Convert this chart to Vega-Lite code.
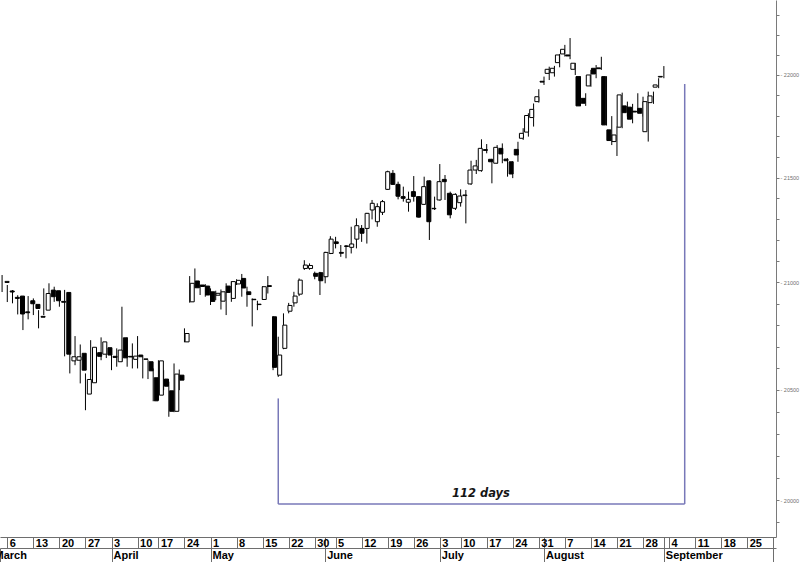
{
  "$schema": "https://vega.github.io/schema/vega-lite/v6.json",
  "width": 776,
  "height": 537,
  "autosize": {"type": "none"},
  "padding": {"left": 0, "top": 0, "right": 24, "bottom": 25},
  "background": "white",
  "config": {"view": {"stroke": null}, "axis": {"grid": false, "labelFont": "Liberation Sans"}},
  "datasets": {
    "candles": [
      {"d":2,"o":21000,"h":21035,"l":20955,"c":21005},
      {"d":3,"o":20960,"h":20988,"l":20908,"c":20955},
      {"d":4,"o":20930,"h":20964,"l":20902,"c":20925},
      {"d":5,"o":20936,"h":20940,"l":20850,"c":20852},
      {"d":6,"o":20862,"h":20925,"l":20777,"c":20858},
      {"d":7,"o":20914,"h":20936,"l":20827,"c":20900},
      {"d":8,"o":20897,"h":20925,"l":20847,"c":20878},
      {"d":9,"o":20841,"h":20870,"l":20785,"c":20837},
      {"d":10,"o":20870,"h":20972,"l":20847,"c":20948},
      {"d":11,"o":20964,"h":20996,"l":20894,"c":20933},
      {"d":12,"o":20961,"h":20980,"l":20909,"c":20914},
      {"d":13,"o":20911,"h":20941,"l":20886,"c":20907},
      {"d":14,"o":20953,"h":20965,"l":20655,"c":20665},
      {"d":15,"o":20634,"h":20684,"l":20576,"c":20653},
      {"d":16,"o":20637,"h":20749,"l":20614,"c":20653},
      {"d":17,"o":20669,"h":20710,"l":20530,"c":20591},
      {"d":18,"o":20481,"h":20576,"l":20407,"c":20548},
      {"d":19,"o":20533,"h":20730,"l":20522,"c":20697},
      {"d":20,"o":20672,"h":20687,"l":20637,"c":20655},
      {"d":21,"o":20665,"h":20743,"l":20637,"c":20722},
      {"d":22,"o":20695,"h":20707,"l":20647,"c":20661},
      {"d":23,"o":20655,"h":20687,"l":20591,"c":20650},
      {"d":24,"o":20630,"h":20692,"l":20607,"c":20684},
      {"d":25,"o":20741,"h":20886,"l":20630,"c":20648},
      {"d":26,"o":20655,"h":20743,"l":20607,"c":20652},
      {"d":27,"o":20641,"h":20715,"l":20599,"c":20656},
      {"d":28,"o":20661,"h":20749,"l":20599,"c":20653},
      {"d":29,"o":20643,"h":20653,"l":20553,"c":20641},
      {"d":30,"o":20630,"h":20637,"l":20550,"c":20588},
      {"d":31,"o":20556,"h":20599,"l":20448,"c":20450},
      {"d":32,"o":20476,"h":20637,"l":20453,"c":20634},
      {"d":33,"o":20550,"h":20591,"l":20499,"c":20517},
      {"d":34,"o":20496,"h":20538,"l":20377,"c":20402},
      {"d":35,"o":20402,"h":20622,"l":20398,"c":20573},
      {"d":36,"o":20568,"h":20594,"l":20499,"c":20545},
      {"d":37,"o":20722,"h":20785,"l":20720,"c":20761},
      {"d":38,"o":20909,"h":21030,"l":20905,"c":20996},
      {"d":39,"o":21007,"h":21066,"l":20973,"c":20975},
      {"d":40,"o":20988,"h":20990,"l":20941,"c":20981},
      {"d":41,"o":20983,"h":20992,"l":20933,"c":20941},
      {"d":42,"o":20956,"h":20972,"l":20894,"c":20911},
      {"d":43,"o":20940,"h":20961,"l":20917,"c":20949},
      {"d":44,"o":20912,"h":20967,"l":20873,"c":20956},
      {"d":45,"o":20983,"h":20996,"l":20847,"c":20953},
      {"d":46,"o":20925,"h":21006,"l":20909,"c":21004},
      {"d":47,"o":20993,"h":21015,"l":20988,"c":21010},
      {"d":48,"o":21019,"h":21040,"l":20933,"c":20974},
      {"d":49,"o":20956,"h":20980,"l":20886,"c":20943},
      {"d":50,"o":20921,"h":20925,"l":20794,"c":20919},
      {"d":51,"o":20898,"h":20914,"l":20870,"c":20896},
      {"d":52,"o":20920,"h":20983,"l":20918,"c":20980},
      {"d":53,"o":20985,"h":21030,"l":20948,"c":20981},
      {"d":54,"o":20839,"h":20842,"l":20591,"c":20604},
      {"d":55,"o":20568,"h":20746,"l":20560,"c":20661},
      {"d":56,"o":20692,"h":20855,"l":20688,"c":20800},
      {"d":57,"o":20865,"h":20904,"l":20855,"c":20892},
      {"d":58,"o":20904,"h":20956,"l":20886,"c":20936},
      {"d":59,"o":20945,"h":21019,"l":20936,"c":21011},
      {"d":60,"o":21066,"h":21105,"l":21059,"c":21082},
      {"d":61,"o":21066,"h":21090,"l":21060,"c":21080},
      {"d":62,"o":21043,"h":21051,"l":21015,"c":21029},
      {"d":63,"o":21046,"h":21050,"l":20941,"c":21008},
      {"d":64,"o":21027,"h":21145,"l":20996,"c":21142},
      {"d":65,"o":21137,"h":21219,"l":21134,"c":21205},
      {"d":66,"o":21192,"h":21216,"l":21161,"c":21184},
      {"d":67,"o":21142,"h":21177,"l":21121,"c":21138},
      {"d":68,"o":21170,"h":21177,"l":21114,"c":21173},
      {"d":69,"o":21166,"h":21264,"l":21137,"c":21182},
      {"d":70,"o":21205,"h":21304,"l":21161,"c":21269},
      {"d":71,"o":21256,"h":21272,"l":21192,"c":21233},
      {"d":72,"o":21256,"h":21330,"l":21184,"c":21328},
      {"d":73,"o":21344,"h":21392,"l":21299,"c":21376},
      {"d":74,"o":21288,"h":21376,"l":21264,"c":21360},
      {"d":75,"o":21333,"h":21392,"l":21320,"c":21384},
      {"d":76,"o":21443,"h":21533,"l":21440,"c":21528},
      {"d":77,"o":21520,"h":21536,"l":21464,"c":21467},
      {"d":78,"o":21467,"h":21480,"l":21395,"c":21410},
      {"d":79,"o":21408,"h":21456,"l":21384,"c":21400},
      {"d":80,"o":21381,"h":21432,"l":21336,"c":21395},
      {"d":81,"o":21432,"h":21507,"l":21384,"c":21409},
      {"d":82,"o":21408,"h":21410,"l":21307,"c":21310},
      {"d":83,"o":21371,"h":21504,"l":21368,"c":21456},
      {"d":84,"o":21484,"h":21486,"l":21201,"c":21288},
      {"d":85,"o":21350,"h":21408,"l":21344,"c":21352},
      {"d":86,"o":21392,"h":21565,"l":21389,"c":21480},
      {"d":87,"o":21491,"h":21512,"l":21392,"c":21480},
      {"d":88,"o":21424,"h":21432,"l":21304,"c":21321},
      {"d":89,"o":21352,"h":21424,"l":21344,"c":21419},
      {"d":90,"o":21379,"h":21443,"l":21360,"c":21411},
      {"d":91,"o":21413,"h":21440,"l":21280,"c":21416},
      {"d":92,"o":21469,"h":21581,"l":21465,"c":21536},
      {"d":93,"o":21536,"h":21585,"l":21517,"c":21556},
      {"d":94,"o":21533,"h":21685,"l":21528,"c":21641},
      {"d":95,"o":21635,"h":21662,"l":21617,"c":21631},
      {"d":96,"o":21588,"h":21590,"l":21472,"c":21576},
      {"d":97,"o":21569,"h":21657,"l":21567,"c":21646},
      {"d":98,"o":21641,"h":21665,"l":21569,"c":21614},
      {"d":99,"o":21589,"h":21593,"l":21504,"c":21581},
      {"d":100,"o":21576,"h":21578,"l":21497,"c":21517},
      {"d":101,"o":21636,"h":21673,"l":21576,"c":21609},
      {"d":102,"o":21690,"h":21739,"l":21682,"c":21714},
      {"d":103,"o":21720,"h":21812,"l":21698,"c":21801},
      {"d":104,"o":21791,"h":21860,"l":21747,"c":21831},
      {"d":105,"o":21869,"h":21930,"l":21864,"c":21893},
      {"d":106,"o":21969,"h":21992,"l":21951,"c":21965},
      {"d":107,"o":22008,"h":22041,"l":21975,"c":22028},
      {"d":108,"o":22011,"h":22045,"l":21992,"c":22033},
      {"d":109,"o":22061,"h":22104,"l":22038,"c":22099},
      {"d":110,"o":22104,"h":22149,"l":22091,"c":22127},
      {"d":111,"o":22099,"h":22183,"l":22078,"c":22094},
      {"d":112,"o":22028,"h":22060,"l":22000,"c":22058},
      {"d":113,"o":21992,"h":21994,"l":21846,"c":21848},
      {"d":114,"o":21885,"h":21910,"l":21848,"c":21861},
      {"d":115,"o":21946,"h":22025,"l":21942,"c":22000},
      {"d":116,"o":22033,"h":22049,"l":21984,"c":22005},
      {"d":117,"o":22035,"h":22090,"l":22025,"c":22031},
      {"d":118,"o":21992,"h":21994,"l":21752,"c":21755},
      {"d":119,"o":21731,"h":21798,"l":21657,"c":21679},
      {"d":120,"o":21674,"h":21747,"l":21604,"c":21706},
      {"d":121,"o":21744,"h":21913,"l":21739,"c":21902},
      {"d":122,"o":21848,"h":21869,"l":21796,"c":21815},
      {"d":123,"o":21842,"h":21858,"l":21763,"c":21783},
      {"d":124,"o":21822,"h":21910,"l":21812,"c":21818},
      {"d":125,"o":21836,"h":21893,"l":21796,"c":21812},
      {"d":126,"o":21722,"h":21918,"l":21674,"c":21869},
      {"d":127,"o":21864,"h":21918,"l":21858,"c":21897},
      {"d":128,"o":21940,"h":21984,"l":21935,"c":21951},
      {"d":129,"o":21990,"h":22044,"l":21984,"c":21993}
    ],
    "bracket": [
      {"d": 55, "d2": 55, "v": 20461, "v2": 19982},
      {"d": 55, "d2": 133, "v": 19982, "v2": 19982},
      {"d": 133, "d2": 133, "v": 21956, "v2": 19982}
    ],
    "note": [{"d": 93.9, "v": 20014, "label": "112 days"}]
  },
  "resolve": {"scale": {"x": "independent", "y": "shared"}, "axis": {"x": "independent", "y": "shared"}},
  "layer": [
    {
      "data": {"name": "candles"},
      "mark": {"type": "rule", "color": "black", "strokeWidth": 1, "clip": true},
      "encoding": {
        "x": {
          "field": "d", "type": "quantitative",
          "scale": {"domain": [1.6, 150.52], "nice": false, "zero": false},
          "axis": {
            "orient": "bottom", "title": null,
            "values": [3, 8, 13, 18, 23, 28, 32, 37, 42, 47, 52, 57, 62, 64, 66, 71, 76, 81, 86, 90, 95, 100, 105, 106, 110, 115, 120, 125, 129, 130, 135, 140, 145, 150],
            "labelExpr": "['6','13','20','27','3','10','17','24','1','8','15','22','30','','5','12','19','26','3','10','17','24','31','','7','14','21','28','','4','11','18','25',''][indexof([3, 8, 13, 18, 23, 28, 32, 37, 42, 47, 52, 57, 62, 64, 66, 71, 76, 81, 86, 90, 95, 100, 105, 106, 110, 115, 120, 125, 129, 130, 135, 140, 145, 150], datum.value)]",
            "tickSize": 11, "tickColor": "#6e6e6e", "tickWidth": 1,
            "domainColor": "#6e6e6e", "domainWidth": 1,
            "labelAlign": "left", "labelBaseline": "top", "labelOffset": 2, "labelPadding": -11,
            "labelFont": "Liberation Sans", "labelFontWeight": "bold", "labelFontSize": 11, "labelColor": "#000000",
            "labelOverlap": false, "labelFlush": false, "labelBound": false
          }
        },
        "y": {
          "field": "l", "type": "quantitative", "title": null,
          "scale": {"type": "log", "domain": [19835, 22373], "nice": false},
          "axis": {
            "orient": "right", "title": null,
            "values": [19900, 20000, 20100, 20200, 20300, 20400, 20500, 20600, 20700, 20800, 20900, 21000, 21100, 21200, 21300, 21400, 21500, 21600, 21700, 21800, 21900, 22000, 22100, 22200, 22300],
            "labelExpr": "(round(datum.value) % 500 == 0) ? ('- ' + round(datum.value)) : ''",
            "tickSize": 3, "tickColor": "#7a7a7a", "domainColor": "#7a7a7a", "domainWidth": 1,
            "labelFont": "Liberation Sans", "labelFontSize": 5.5, "labelColor": "#707070", "labelPadding": 1, "labelBaseline": "middle",
            "labelOverlap": false, "labelFlush": false, "labelBound": false
          }
        },
        "y2": {"field": "h"}
      }
    },
    {
      "data": {"name": "candles"},
      "mark": {"type": "bar", "size": 4, "stroke": "black", "strokeWidth": 1, "clip": true},
      "encoding": {
        "x": {"field": "d", "type": "quantitative", "scale": {"domain": [1.6, 150.52], "nice": false, "zero": false}, "axis": null},
        "y": {"field": "o", "type": "quantitative", "title": null},
        "y2": {"field": "c"},
        "fill": {"condition": {"test": "datum.c >= datum.o", "value": "white"}, "value": "black"}
      }
    },
    {
      "data": {"name": "bracket"},
      "mark": {"type": "rule", "color": "#7878b8", "strokeWidth": 1.5},
      "encoding": {
        "x": {"field": "d", "type": "quantitative", "scale": {"domain": [1.6, 150.52], "nice": false, "zero": false}, "axis": null},
        "x2": {"field": "d2"},
        "y": {"field": "v", "type": "quantitative", "title": null},
        "y2": {"field": "v2"}
      }
    },
    {
      "data": {"name": "note"},
      "mark": {"type": "text", "font": "DejaVu Sans", "fontStyle": "italic", "fontWeight": "bold", "fontSize": 11.5, "align": "center", "baseline": "alphabetic", "color": "#151515"},
      "encoding": {
        "x": {"field": "d", "type": "quantitative", "scale": {"domain": [1.6, 150.52], "nice": false, "zero": false}, "axis": null},
        "y": {"field": "v", "type": "quantitative", "title": null},
        "text": {"field": "label"}
      }
    },
    {
      "data": {"name": "candles"},
      "mark": {"type": "point", "opacity": 0},
      "encoding": {
        "x": {
          "field": "d", "type": "quantitative",
          "scale": {"domain": [1.6, 150.52], "nice": false, "zero": false},
          "axis": {
            "orient": "bottom", "offset": 11, "title": null,
            "values": [1.6, 23, 42, 64, 86, 106, 129, 150],
            "labelExpr": "['March','April','May','June','July','August','September',''][indexof([1.6, 23, 42, 64, 86, 106, 129, 150], datum.value)]",
            "tickSize": 14, "tickColor": "#6e6e6e", "tickWidth": 1,
            "domainColor": "#6e6e6e", "domainWidth": 1,
            "labelAlign": "left", "labelBaseline": "top", "labelPadding": -13,
            "labelOffset": {"condition": {"test": "datum.value < 2", "value": -6}, "value": 1.5},
            "labelFont": "Liberation Sans", "labelFontWeight": "bold", "labelFontSize": 11, "labelColor": "#000000",
            "labelOverlap": false, "labelFlush": false, "labelBound": false
          }
        },
        "y": {"field": "c", "type": "quantitative", "title": null}
      }
    }
  ]
}
